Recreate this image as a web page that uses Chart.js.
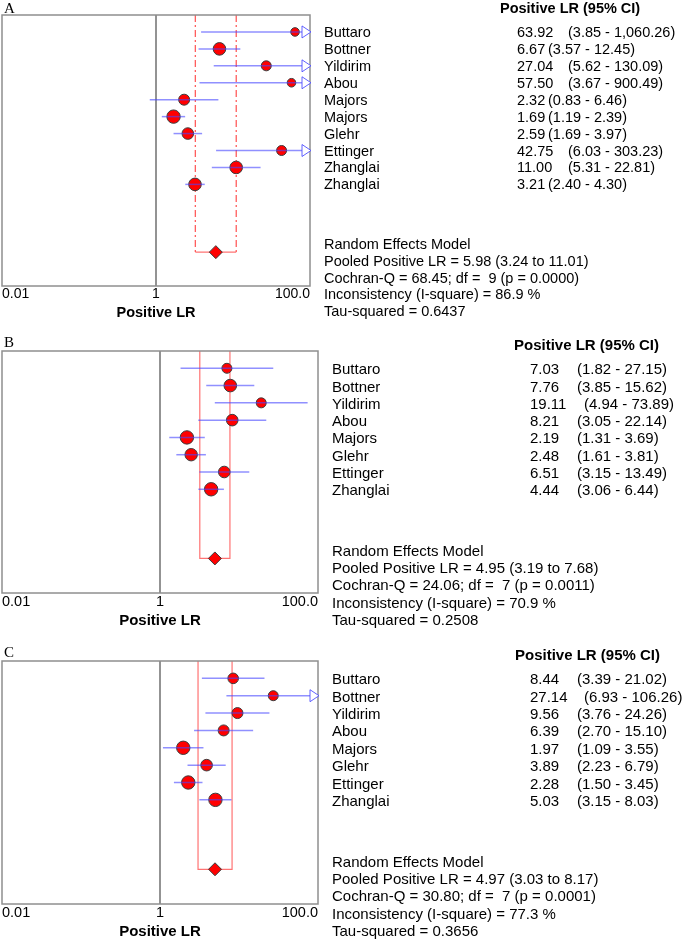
<!DOCTYPE html>
<html>
<head>
<meta charset="utf-8">
<script src="https://cdn.jsdelivr.net/npm/chart.js@4.4.1/dist/chart.umd.min.js"></script>
<style>
  body { margin: 0; background: #fff; }
  #page { position: relative; width: 685px; height: 940px; overflow: hidden; font-family: "Liberation Sans", Arial, sans-serif; color: #000; }
  #page canvas { position: absolute; left: 0; }
  .txt { position: absolute; white-space: pre; line-height: 1; transform: translateY(-50%); }
  .bold { font-weight: bold; }
  .letter { position: absolute; font-family: "Liberation Serif", "Times New Roman", serif; line-height: 1; transform: translateY(-50%); }
</style>
</head>
<body>
<div id="page"></div>
<script>
// Marcas do eixo x (escala log)
const tickValues = [0.01, 1, 100];
const tickLabels = ['0.01', '1', '100.0'];

// Painel A
const studiesA = ['Buttaro', 'Bottner', 'Yildirim', 'Abou', 'Majors', 'Majors', 'Glehr', 'Ettinger', 'Zhanglai', 'Zhanglai'];
const lrA = [63.92, 6.67, 27.04, 57.50, 2.32, 1.69, 2.59, 42.75, 11.00, 3.21];
const lowA = [3.85, 3.57, 5.62, 3.67, 0.83, 1.19, 1.69, 6.03, 5.31, 2.40];
const highA = [1060.26, 12.45, 130.09, 900.49, 6.46, 2.39, 3.97, 303.23, 22.81, 4.30];
const pooledA = [5.98, 3.24, 11.01];
const cochranA = [68.45, 9, '0.0000'];
const isqA = 86.9;
const tauA = 0.6437;

// Painel B
const studiesB = ['Buttaro', 'Bottner', 'Yildirim', 'Abou', 'Majors', 'Glehr', 'Ettinger', 'Zhanglai'];
const lrB = [7.03, 7.76, 19.11, 8.21, 2.19, 2.48, 6.51, 4.44];
const lowB = [1.82, 3.85, 4.94, 3.05, 1.31, 1.61, 3.15, 3.06];
const highB = [27.15, 15.62, 73.89, 22.14, 3.69, 3.81, 13.49, 6.44];
const pooledB = [4.95, 3.19, 7.68];
const cochranB = [24.06, 7, '0.0011'];
const isqB = 70.9;
const tauB = 0.2508;

// Painel C
const studiesC = ['Buttaro', 'Bottner', 'Yildirim', 'Abou', 'Majors', 'Glehr', 'Ettinger', 'Zhanglai'];
const lrC = [8.44, 27.14, 9.56, 6.39, 1.97, 3.89, 2.28, 5.03];
const lowC = [3.39, 6.93, 3.76, 2.70, 1.09, 2.23, 1.50, 3.15];
const highC = [21.02, 106.26, 24.26, 15.10, 3.55, 6.79, 3.45, 8.03];
const pooledC = [4.97, 3.03, 8.17];
const cochranC = [30.80, 7, '0.0001'];
const isqC = 77.3;
const tauC = 0.3656;

// Layout de cada painel (posições e estilos, separados dos dados)
const panels = [
  { letter: 'A', studies: studiesA, lr: lrA, low: lowA, high: highA, pooled: pooledA, q: cochranA, isq: isqA, tau: tauA,
    top: 0, height: 330, box: { top: 15, bottom: 286, left: 2, right: 310 }, rows: 16,
    font: 14.5, tickFont: 14, nameX: 324, valX: 517, ciX: [548, 568], headX: 500, letterY: 8, dashed: true,
    radius: [4.3, 6.3, 5, 4.3, 5.5, 6.7, 5.8, 5, 6.3, 6.3] },
  { letter: 'B', studies: studiesB, lr: lrB, low: lowB, high: highB, pooled: pooledB, q: cochranB, isq: isqB, tau: tauB,
    top: 330, height: 310, box: { top: 351, bottom: 593, left: 2, right: 318 }, rows: 14,
    font: 15, tickFont: 14.5, nameX: 332, valX: 530, ciX: [577, 584], headX: 514, letterY: 342, dashed: false,
    radius: [5, 6.3, 5, 5.8, 6.7, 6.2, 5.8, 6.7] },
  { letter: 'C', studies: studiesC, lr: lrC, low: lowC, high: highC, pooled: pooledC, q: cochranC, isq: isqC, tau: tauC,
    top: 640, height: 300, box: { top: 661, bottom: 904, left: 2, right: 318 }, rows: 14,
    font: 15, tickFont: 14.5, nameX: 332, valX: 530, ciX: [577, 584], headX: 515, letterY: 652, dashed: false,
    radius: [5.3, 5, 5.5, 5.5, 6.7, 5.8, 6.7, 6.7] }
];

Chart.defaults.font.family = '"Liberation Sans", Arial, sans-serif';
const page = document.getElementById('page');

// Formata números com 2 casas e separador de milhar
function fmt(v) {
  return v.toLocaleString('en-US', { minimumFractionDigits: 2, maximumFractionDigits: 2 });
}

// Adiciona um texto HTML na página
function addText(str, x, y, size, cls) {
  const d = document.createElement('div');
  d.className = 'txt' + (cls ? ' ' + cls : '');
  d.style.left = x + 'px';
  d.style.top = y + 'px';
  d.style.fontSize = size + 'px';
  d.textContent = str;
  page.appendChild(d);
}

function drawPanel(p) {
  const canvas = document.createElement('canvas');
  canvas.width = 685;
  canvas.height = p.height;
  canvas.style.top = p.top + 'px';
  page.appendChild(canvas);

  const n = p.studies.length;
  const diamondRow = n + 4;
  const [pl, plo, phi] = p.pooled;
  const xMax = tickValues[tickValues.length - 1];
  const axisH = 1.2 * p.tickFont + 1.2 * p.font + 1; // rótulos + título do eixo
  const datasets = [];

  // Linha vertical em LR = 1
  datasets.push({ data: [{ x: 1, y: 0 }, { x: 1, y: p.rows }], showLine: true, pointRadius: 0,
    borderColor: '#707070', borderWidth: 1.5, order: 5 });

  // IC do modelo combinado
  if (p.dashed) {
    [plo, phi].forEach(v => {
      datasets.push({ data: [{ x: v, y: 0 }, { x: v, y: diamondRow }], showLine: true, pointRadius: 0,
        borderColor: '#ff5050', borderWidth: 1.2, borderDash: [7, 3, 2, 3], order: 4 });
    });
    datasets.push({ data: [{ x: plo, y: diamondRow }, { x: phi, y: diamondRow }], showLine: true, pointRadius: 0,
      borderColor: 'rgba(255,80,80,0.8)', borderWidth: 1.2, order: 4 });
  } else {
    datasets.push({ data: [{ x: plo, y: 0 }, { x: plo, y: diamondRow }, { x: phi, y: diamondRow }, { x: phi, y: 0 }],
      showLine: true, pointRadius: 0, borderColor: 'rgba(255,80,80,0.8)', borderWidth: 1.2, order: 4 });
  }

  // Estimativas dos estudos
  datasets.push({ data: p.lr.map((v, i) => ({ x: v, y: i + 1 })), pointRadius: p.radius, pointHoverRadius: p.radius,
    backgroundColor: '#ff0000', borderColor: '#3c3c3c', borderWidth: 1, order: 2 });

  // IC de cada estudo (por cima dos círculos)
  p.low.forEach((lo, i) => {
    datasets.push({ data: [{ x: lo, y: i + 1 }, { x: p.high[i], y: i + 1 }], showLine: true, pointRadius: 0,
      borderColor: 'rgba(70,70,255,0.6)', borderWidth: 1.5, order: 1 });
  });

  // Losango do efeito combinado
  datasets.push({ data: [{ x: pl, y: diamondRow }], pointStyle: 'rectRot', pointRadius: 6.5,
    backgroundColor: '#ff0000', borderColor: '#3c3c3c', borderWidth: 1, order: 0 });

  // Moldura do gráfico e setas dos IC que passam do limite
  const framePlugin = {
    id: 'frame' + p.letter,
    afterDatasetsDraw(chart) {
      const { ctx, chartArea: a, scales } = chart;
      ctx.save();
      ctx.strokeStyle = '#8f8f8f';
      ctx.lineWidth = 1.5;
      ctx.strokeRect(a.left, a.top, a.right - a.left, a.bottom - a.top);
      const X = scales.x.getPixelForValue(xMax);
      p.high.forEach((h, i) => {
        if (h <= xMax) return;
        const Y = scales.y.getPixelForValue(i + 1);
        ctx.beginPath();
        ctx.moveTo(X + 1, Y);
        ctx.lineTo(X - 8, Y - 6);
        ctx.lineTo(X - 8, Y + 6);
        ctx.closePath();
        ctx.fillStyle = '#fff';
        ctx.fill();
        ctx.strokeStyle = 'rgba(70,70,255,0.85)';
        ctx.lineWidth = 1;
        ctx.stroke();
      });
      ctx.restore();
    }
  };

  const chart = new Chart(canvas, {
    type: 'scatter',
    data: { datasets },
    options: {
      responsive: false,
      animation: false,
      layout: { autoPadding: false, padding: { left: p.box.left, right: 685 - p.box.right, top: p.box.top - p.top,
        bottom: p.height - (p.box.bottom - p.top) - axisH } },
      plugins: { legend: { display: false }, tooltip: { enabled: false } },
      scales: {
        x: {
          type: 'logarithmic', min: tickValues[0], max: xMax, position: 'bottom',
          grid: { display: false, drawTicks: false }, border: { display: false },
          afterBuildTicks: s => { s.ticks = tickValues.map(v => ({ value: v })); },
          ticks: { align: 'inner', padding: 0, color: '#000', maxRotation: 0, autoSkip: false,
            font: { size: p.tickFont }, callback: (v, i) => tickLabels[i] },
          title: { display: true, text: 'Positive LR', color: '#000',
            font: { size: p.font, weight: 'bold' }, padding: { top: 1, bottom: 0 } }
        },
        y: { type: 'linear', min: 0, max: p.rows, reverse: true, display: false }
      }
    },
    plugins: [framePlugin]
  });

  // Textos à direita, alinhados às linhas do eixo y
  const rowY = r => p.top + chart.scales.y.getPixelForValue(r);
  addText('Positive LR (95% CI)', p.headX, rowY(-0.4), p.font, 'bold');
  p.studies.forEach((s, i) => {
    const val = p.lr[i].toFixed(2);
    addText(s, p.nameX, rowY(i + 1), p.font);
    addText(val, p.valX, rowY(i + 1), p.font);
    addText('(' + fmt(p.low[i]) + ' - ' + fmt(p.high[i]) + ')', p.ciX[val.length > 4 ? 1 : 0], rowY(i + 1), p.font);
  });
  const summary = [
    'Random Effects Model',
    'Pooled Positive LR = ' + fmt(pl) + ' (' + fmt(plo) + ' to ' + fmt(phi) + ')',
    'Cochran-Q = ' + fmt(p.q[0]) + '; df =  ' + p.q[1] + ' (p = ' + p.q[2] + ')',
    'Inconsistency (I-square) = ' + p.isq.toFixed(1) + ' %',
    'Tau-squared = ' + p.tau.toFixed(4)
  ];
  summary.forEach((t, k) => addText(t, p.nameX, rowY(diamondRow - 0.5 + k), p.font));

  // Letra do painel
  const l = document.createElement('div');
  l.className = 'letter';
  l.style.left = '4px';
  l.style.top = p.letterY + 'px';
  l.style.fontSize = '15px';
  l.textContent = p.letter;
  page.appendChild(l);
}

panels.forEach(drawPanel);
</script>
</body>
</html>
